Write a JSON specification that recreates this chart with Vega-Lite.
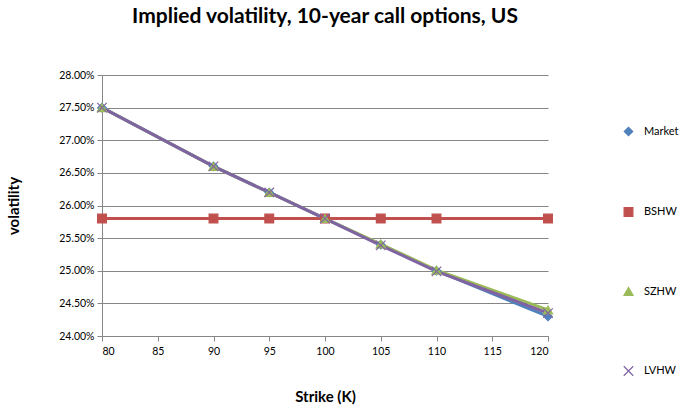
{
  "$schema": "https://vega.github.io/schema/vega-lite/v6.json",
  "autosize": {"type": "none"},
  "width": 446,
  "height": 261,
  "padding": {"left": 102, "top": 75, "right": 136, "bottom": 71},
  "background": "white",
  "config": {
    "font": "Lato",
    "view": {"stroke": null},
    "axis": {"labelFont": "Lato", "labelFontSize": 10.5, "labelColor": "#000000", "titleFont": "Lato", "titleFontSize": 15, "titleFontWeight": "bold", "titleColor": "#000000", "domainColor": "#868686", "tickColor": "#868686", "gridColor": "#868686", "tickSize": 5}
  },
  "title": {"text": "Implied volatility, 10-year call options, US", "font": "Lato", "fontSize": 21, "fontWeight": "bold", "color": "#000000", "anchor": "middle", "offset": 43, "dx": 0},
  "data": {"values": [
    {"strike": 80, "series": "Market", "vol": 0.275},
    {"strike": 90, "series": "Market", "vol": 0.266},
    {"strike": 95, "series": "Market", "vol": 0.262},
    {"strike": 100, "series": "Market", "vol": 0.258},
    {"strike": 105, "series": "Market", "vol": 0.254},
    {"strike": 110, "series": "Market", "vol": 0.250},
    {"strike": 120, "series": "Market", "vol": 0.243},
    {"strike": 80, "series": "BSHW", "vol": 0.258},
    {"strike": 90, "series": "BSHW", "vol": 0.258},
    {"strike": 95, "series": "BSHW", "vol": 0.258},
    {"strike": 100, "series": "BSHW", "vol": 0.258},
    {"strike": 105, "series": "BSHW", "vol": 0.258},
    {"strike": 110, "series": "BSHW", "vol": 0.258},
    {"strike": 120, "series": "BSHW", "vol": 0.258},
    {"strike": 80, "series": "SZHW", "vol": 0.275},
    {"strike": 90, "series": "SZHW", "vol": 0.266},
    {"strike": 95, "series": "SZHW", "vol": 0.262},
    {"strike": 100, "series": "SZHW", "vol": 0.258},
    {"strike": 105, "series": "SZHW", "vol": 0.2541},
    {"strike": 110, "series": "SZHW", "vol": 0.2501},
    {"strike": 120, "series": "SZHW", "vol": 0.244},
    {"strike": 80, "series": "LVHW", "vol": 0.275},
    {"strike": 90, "series": "LVHW", "vol": 0.266},
    {"strike": 95, "series": "LVHW", "vol": 0.262},
    {"strike": 100, "series": "LVHW", "vol": 0.258},
    {"strike": 105, "series": "LVHW", "vol": 0.2539},
    {"strike": 110, "series": "LVHW", "vol": 0.2499},
    {"strike": 120, "series": "LVHW", "vol": 0.2435}
  ]},
  "encoding": {
    "x": {"field": "strike", "type": "quantitative", "title": "Strike (K)",
      "scale": {"domain": [80, 120], "nice": false},
      "axis": {"values": [80, 85, 90, 95, 100, 105, 110, 115, 120], "grid": false, "labelPadding": 5, "titlePadding": 33}},
    "y": {"field": "vol", "type": "quantitative", "title": "volatility",
      "scale": {"domain": [0.24, 0.28], "nice": false, "zero": false},
      "axis": {"values": [0.24, 0.245, 0.25, 0.255, 0.26, 0.265, 0.27, 0.275, 0.28], "format": ".2%", "grid": true, "labelPadding": 3, "titlePadding": 37}},
    "color": {"field": "series", "type": "nominal",
      "scale": {"domain": ["Market", "BSHW", "SZHW", "LVHW"], "range": ["#4F81BD", "#C0504D", "#9BBB59", "#8064A2"]},
      "legend": {"title": null, "orient": "none", "legendX": 521, "legendY": 51, "rowPadding": 65.5, "labelFont": "Lato", "labelFontSize": 11, "labelColor": "#000000", "symbolSize": 64, "labelOffset": 10, "symbolStrokeWidth": 1.2}
    },
    "order": {"field": "strike", "type": "quantitative"}
  },
  "layer": [
    {"mark": {"type": "line", "strokeWidth": 3}},
    {"mark": {"type": "point", "filled": true, "strokeWidth": 1.2, "opacity": 1},
      "encoding": {
        "shape": {"field": "series", "type": "nominal", "legend": null,
          "scale": {"domain": ["Market", "BSHW", "SZHW", "LVHW"], "range": ["diamond", "square", "triangle-up", "M-1,-1L1,1M-1,1L1,-1"]}},
        "size": {"field": "series", "type": "nominal", "legend": null,
          "scale": {"domain": ["Market", "BSHW", "SZHW", "LVHW"], "range": [70, 90, 80, 60]}},
        "stroke": {"field": "series", "type": "nominal", "legend": null,
          "scale": {"domain": ["Market", "BSHW", "SZHW", "LVHW"], "range": ["#4F81BD", "#C0504D", "#9BBB59", "#8064A2"]}}
      }}
  ]
}
